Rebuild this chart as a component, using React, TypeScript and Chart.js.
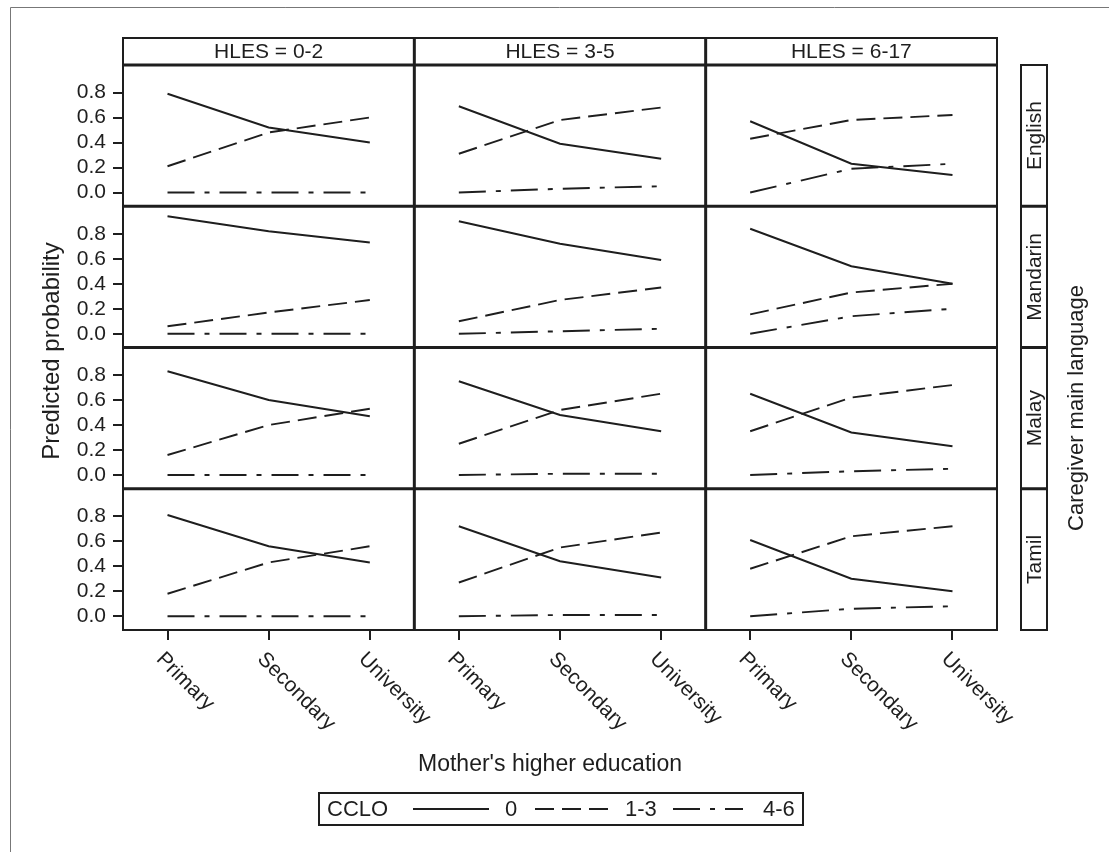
import React, { useEffect, useRef } from 'react';
import { Chart, registerables } from 'chart.js';

Chart.register(...registerables);

// ---------- data ----------
const educationLevels = ['Primary', 'Secondary', 'University'];
const hlesGroups = ['HLES = 0-2', 'HLES = 3-5', 'HLES = 6-17'];
const languages = ['English', 'Mandarin', 'Malay', 'Tamil'];
const ccloLevels = ['0', '1-3', '4-6'];
const yTickValues = [0, 0.2, 0.4, 0.6, 0.8];

// Each array: HLES 0-2 (Primary, Secondary, University), HLES 3-5 (...), HLES 6-17 (...)
const englishCclo0 = [0.79, 0.52, 0.40, 0.69, 0.39, 0.27, 0.57, 0.23, 0.14];
const englishCclo13 = [0.21, 0.48, 0.60, 0.31, 0.58, 0.68, 0.43, 0.58, 0.62];
const englishCclo46 = [0.00, 0.00, 0.00, 0.00, 0.03, 0.05, 0.00, 0.19, 0.23];

const mandarinCclo0 = [0.94, 0.82, 0.73, 0.90, 0.72, 0.59, 0.84, 0.54, 0.40];
const mandarinCclo13 = [0.06, 0.17, 0.27, 0.10, 0.27, 0.37, 0.155, 0.33, 0.40];
const mandarinCclo46 = [0.00, 0.00, 0.00, 0.00, 0.02, 0.04, 0.00, 0.14, 0.20];

const malayCclo0 = [0.83, 0.60, 0.47, 0.75, 0.48, 0.35, 0.65, 0.34, 0.23];
const malayCclo13 = [0.16, 0.40, 0.53, 0.25, 0.52, 0.65, 0.35, 0.62, 0.72];
const malayCclo46 = [0.00, 0.00, 0.00, 0.00, 0.01, 0.01, 0.00, 0.03, 0.05];

const tamilCclo0 = [0.81, 0.56, 0.43, 0.72, 0.44, 0.31, 0.61, 0.30, 0.20];
const tamilCclo13 = [0.18, 0.43, 0.56, 0.27, 0.55, 0.67, 0.38, 0.64, 0.72];
const tamilCclo46 = [0.00, 0.00, 0.00, 0.00, 0.01, 0.01, 0.00, 0.06, 0.08];

const seriesByLanguage = [
  [englishCclo0, englishCclo13, englishCclo46],
  [mandarinCclo0, mandarinCclo13, mandarinCclo46],
  [malayCclo0, malayCclo13, malayCclo46],
  [tamilCclo0, tamilCclo13, tamilCclo46],
];

// ---------- styles ----------
const INK = '#1e1e1e';
const FONT = '"Liberation Sans", Arial, Helvetica, sans-serif';
const lineDashes: number[][] = [[], [19, 8], [27, 10, 5, 10]];
const LINE_W = 1.9;

const W = 1109;
const H = 852;

const facetDecor = {
  id: 'facetDecor',
  afterDraw(chart: any) {
    const ctx: CanvasRenderingContext2D = chart.ctx;
    const xs = hlesGroups.map((_, c) => chart.scales['x' + c]);
    const ys = languages.map((_, r) => chart.scales['y' + r]);
    const left = xs[0].left;
    const right = xs[xs.length - 1].right;
    const top = ys[0].top;
    const bottom = ys[ys.length - 1].bottom;
    const stripTop = 38;

    ctx.save();
    // page frame (top/left visible)
    ctx.strokeStyle = '#777777';
    ctx.lineWidth = 1;
    ctx.beginPath();
    ctx.moveTo(10.5, chart.height);
    ctx.lineTo(10.5, 7.5);
    ctx.lineTo(chart.width, 7.5);
    ctx.stroke();

    ctx.strokeStyle = INK;
    ctx.fillStyle = INK;

    // header strips
    ctx.lineWidth = 2;
    ctx.strokeRect(left, stripTop, right - left, top - stripTop);
    ctx.font = `21px ${FONT}`;
    ctx.textAlign = 'center';
    ctx.textBaseline = 'middle';
    xs.forEach((s: any, c: number) => {
      ctx.fillText(hlesGroups[c], (s.left + s.right) / 2, (stripTop + top) / 2 + 1);
    });

    // panel grid
    ctx.lineWidth = 2;
    ctx.strokeRect(left, top, right - left, bottom - top);
    ctx.lineWidth = 3;
    ctx.beginPath();
    ctx.moveTo(left, top);
    ctx.lineTo(right, top);
    for (let c = 1; c < xs.length; c++) {
      ctx.moveTo(xs[c].left, stripTop);
      ctx.lineTo(xs[c].left, bottom);
    }
    for (let r = 1; r < ys.length; r++) {
      ctx.moveTo(left, ys[r].top);
      ctx.lineTo(right, ys[r].top);
    }
    ctx.stroke();

    // right strips
    const sx0 = 1021;
    const sx1 = 1047;
    ctx.lineWidth = 2;
    ctx.strokeRect(sx0, top, sx1 - sx0, bottom - top);
    ctx.lineWidth = 3;
    ctx.beginPath();
    for (let r = 1; r < ys.length; r++) {
      ctx.moveTo(sx0, ys[r].top);
      ctx.lineTo(sx1, ys[r].top);
    }
    ctx.stroke();
    ys.forEach((s: any, r: number) => {
      ctx.save();
      ctx.translate((sx0 + sx1) / 2 + 1, (s.top + s.bottom) / 2);
      ctx.rotate(-Math.PI / 2);
      ctx.font = `21px ${FONT}`;
      ctx.textAlign = 'center';
      ctx.textBaseline = 'middle';
      ctx.fillText(languages[r], 0, 0);
      ctx.restore();
    });

    // rotated x tick labels
    xs.forEach((s: any) => {
      educationLevels.forEach((lab, i) => {
        const px = s.getPixelForValue(i);
        ctx.save();
        ctx.translate(px - 8, s.top + 26);
        ctx.rotate(Math.PI / 4);
        ctx.font = `21px ${FONT}`;
        ctx.textAlign = 'left';
        ctx.textBaseline = 'middle';
        ctx.fillText(lab, 0, 0);
        ctx.restore();
      });
    });

    // axis titles
    ctx.font = `24px ${FONT}`;
    ctx.textAlign = 'center';
    ctx.textBaseline = 'middle';
    ctx.save();
    ctx.translate(52, 351);
    ctx.rotate(-Math.PI / 2);
    ctx.fillText('Predicted probability', 0, 0);
    ctx.restore();

    ctx.font = `23px ${FONT}`;
    ctx.fillText("Mother's higher education", 550, 765);

    ctx.save();
    ctx.translate(1077, 408);
    ctx.rotate(-Math.PI / 2);
    ctx.font = `22px ${FONT}`;
    ctx.fillText('Caregiver main language', 0, 0);
    ctx.restore();

    // legend
    const lx = 319, ly = 793, lw = 484, lh = 32;
    const cy = ly + lh / 2;
    ctx.lineWidth = 2;
    ctx.setLineDash([]);
    ctx.strokeRect(lx, ly, lw, lh);
    ctx.font = `22px ${FONT}`;
    ctx.textAlign = 'left';
    ctx.textBaseline = 'middle';
    ctx.fillText('CCLO', 327, cy + 1);
    const items = [
      { x0: 413, x1: 489, tx: 505 },
      { x0: 535, x1: 608, tx: 625 },
      { x0: 673, x1: 743, tx: 763 },
    ];
    items.forEach((it, k) => {
      ctx.lineWidth = LINE_W;
      ctx.setLineDash(lineDashes[k]);
      ctx.beginPath();
      ctx.moveTo(it.x0, cy);
      ctx.lineTo(it.x1, cy);
      ctx.stroke();
      ctx.setLineDash([]);
      ctx.fillText(ccloLevels[k], it.tx, cy + 1);
    });

    ctx.restore();
  },
};

export default function App() {
  const ref = useRef<HTMLCanvasElement | null>(null);

  useEffect(() => {
    document.body.style.margin = '0';
    document.body.style.overflow = 'hidden';
    const canvas = ref.current;
    if (!canvas) return;

    const datasets: any[] = [];
    languages.forEach((_, r) => {
      hlesGroups.forEach((__, c) => {
        ccloLevels.forEach((lev, k) => {
          const values = seriesByLanguage[r][k];
          datasets.push({
            label: lev,
            data: educationLevels.map((___, i) => ({ x: i, y: values[c * 3 + i] })),
            xAxisID: 'x' + c,
            yAxisID: 'y' + r,
            borderColor: INK,
            backgroundColor: INK,
            borderWidth: LINE_W,
            borderDash: lineDashes[k],
            pointRadius: 0,
            fill: false,
            tension: 0,
          });
        });
      });
    });

    const scales: any = {};
    hlesGroups.forEach((_, c) => {
      scales['x' + c] = {
        type: 'linear',
        position: 'bottom',
        stack: 'cols',
        stackWeight: 1,
        weight: c + 1,
        min: -0.44,
        max: 2.44,
        afterBuildTicks: (s: any) => {
          s.ticks = educationLevels.map((__, i) => ({ value: i }));
        },
        afterFit: (s: any) => {
          s.height = 222;
        },
        ticks: { display: false, autoSkip: false },
        grid: { drawOnChartArea: false, drawTicks: true, tickLength: 10, color: INK, lineWidth: 2 },
        border: { display: false },
      };
    });
    languages.forEach((_, r) => {
      scales['y' + r] = {
        type: 'linear',
        position: 'left',
        stack: 'rows',
        stackWeight: 1,
        weight: languages.length - r,
        min: -0.11,
        max: 1.02,
        afterBuildTicks: (s: any) => {
          s.ticks = yTickValues.map((v) => ({ value: v }));
        },
        afterFit: (s: any) => {
          s.width = 123;
        },
        ticks: {
          autoSkip: false,
          color: INK,
          padding: 7,
          font: { family: FONT, size: 21 },
          callback: (v: any) => Number(v).toFixed(1),
        },
        grid: { drawOnChartArea: false, drawTicks: true, tickLength: 10, color: INK, lineWidth: 2 },
        border: { display: false },
      };
    });

    const chart = new Chart(canvas, {
      type: 'line',
      data: { datasets },
      options: {
        animation: false,
        responsive: false,
        devicePixelRatio: 1,
        layout: { padding: { left: 0, top: 65, right: W - 997, bottom: 0 } },
        plugins: {
          legend: { display: false },
          tooltip: { enabled: false },
        },
        scales,
      },
      plugins: [facetDecor],
    } as any);

    return () => chart.destroy();
  }, []);

  return (
    <div style={{ width: W, height: H, overflow: 'hidden', background: '#fff' }}>
      <canvas ref={ref} width={W} height={H} style={{ display: 'block' }} />
    </div>
  );
}
